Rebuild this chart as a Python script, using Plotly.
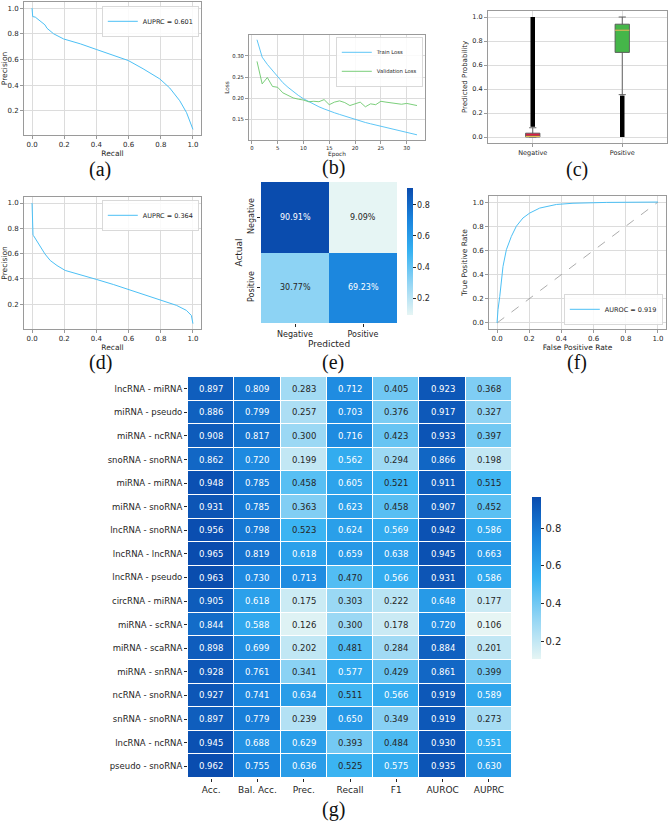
import plotly.graph_objects as go

W, H = 669, 822

# ---------------- data ----------------
# (a) precision-recall curve, AUPRC 0.601
pr_a_recall = [0.0, 0.0, 0.004, 0.02, 0.04, 0.065, 0.08, 0.093, 0.134, 0.196, 0.30, 0.40, 0.505,
               0.598, 0.69, 0.794, 0.856, 0.918, 0.96, 0.99, 1.0]
pr_a_precision = [1.0, 0.97, 0.934, 0.93, 0.91, 0.89, 0.87, 0.843, 0.80, 0.760, 0.722, 0.678, 0.632,
                  0.592, 0.528, 0.449, 0.378, 0.279, 0.187, 0.095, 0.056]
auprc_a = 0.601

# (b) training curves
epochs = list(range(1, 33))
train_loss = [0.338, 0.297, 0.280, 0.265, 0.250, 0.237, 0.226, 0.216, 0.207, 0.199, 0.192, 0.186,
              0.180, 0.175, 0.170, 0.166, 0.162, 0.158, 0.154, 0.150, 0.147, 0.143, 0.140, 0.137,
              0.134, 0.131, 0.128, 0.125, 0.122, 0.120, 0.117, 0.114]
val_loss = [0.287, 0.234, 0.249, 0.228, 0.226, 0.213, 0.207, 0.201, 0.198, 0.196, 0.192, 0.193,
            0.192, 0.197, 0.185, 0.191, 0.194, 0.190, 0.183, 0.187, 0.191, 0.180, 0.187, 0.185,
            0.193, 0.191, 0.189, 0.188, 0.186, 0.188, 0.186, 0.183]

# (c) predicted probability box plot
box_cats = ["Negative", "Positive"]
box_q1 = [0.0, 0.705]
box_median = [0.005, 0.89]
box_q3 = [0.032, 0.94]
box_lowerfence = [0.0, 0.353]
box_upperfence = [0.077, 1.0]
outlier_low = [0.085, 0.0]
outlier_high = [1.0, 0.345]

# (d) precision-recall curve, AUPRC 0.364
pr_d_recall = [0.0, 0.003, 0.006, 0.01, 0.03, 0.05, 0.08, 0.113, 0.155, 0.206, 0.30, 0.40, 0.505,
               0.608, 0.71, 0.814, 0.897, 0.959, 0.99, 1.0]
pr_d_precision = [1.0, 0.80, 0.745, 0.74, 0.70, 0.66, 0.597, 0.545, 0.505, 0.466, 0.434, 0.395,
                  0.355, 0.313, 0.268, 0.229, 0.19, 0.15, 0.11, 0.045]
auprc_d = 0.364

# (e) confusion matrix (percent)
cm_labels = ["Negative", "Positive"]
cm_pct = [[90.91, 9.09],
          [30.77, 69.23]]

# (f) ROC curve, AUROC 0.919
roc_fpr = [0.0, 0.006, 0.017, 0.027, 0.037, 0.058, 0.089, 0.12, 0.161, 0.203, 0.265, 0.369,
           0.472, 0.68, 1.0]
roc_tpr = [0.0, 0.11, 0.22, 0.344, 0.468, 0.606, 0.716, 0.80, 0.868, 0.909, 0.95, 0.98, 0.99,
           0.997, 1.0]
auroc_f = 0.919

# (g) metrics heatmap
metric_cols = ["Acc.", "Bal. Acc.", "Prec.", "Recall", "F1", "AUROC", "AUPRC"]
pair_rows = ["lncRNA - miRNA", "miRNA - pseudo", "miRNA - ncRNA", "snoRNA - snoRNA",
             "miRNA - miRNA", "miRNA - snoRNA", "lncRNA - snoRNA", "lncRNA - lncRNA",
             "lncRNA - pseudo", "circRNA - miRNA", "miRNA - scRNA", "miRNA - scaRNA",
             "miRNA - snRNA", "ncRNA - snoRNA", "snRNA - snoRNA", "lncRNA - ncRNA",
             "pseudo - snoRNA"]
metric_vals = [
    [0.897, 0.809, 0.283, 0.712, 0.405, 0.923, 0.368],
    [0.886, 0.799, 0.257, 0.703, 0.376, 0.917, 0.327],
    [0.908, 0.817, 0.300, 0.716, 0.423, 0.933, 0.397],
    [0.862, 0.720, 0.199, 0.562, 0.294, 0.866, 0.198],
    [0.948, 0.785, 0.458, 0.605, 0.521, 0.911, 0.515],
    [0.931, 0.785, 0.363, 0.623, 0.458, 0.907, 0.452],
    [0.956, 0.798, 0.523, 0.624, 0.569, 0.942, 0.586],
    [0.965, 0.819, 0.618, 0.659, 0.638, 0.945, 0.663],
    [0.963, 0.730, 0.713, 0.470, 0.566, 0.931, 0.586],
    [0.905, 0.618, 0.175, 0.303, 0.222, 0.648, 0.177],
    [0.844, 0.588, 0.126, 0.300, 0.178, 0.720, 0.106],
    [0.898, 0.699, 0.202, 0.481, 0.284, 0.884, 0.201],
    [0.928, 0.761, 0.341, 0.577, 0.429, 0.861, 0.399],
    [0.927, 0.741, 0.634, 0.511, 0.566, 0.919, 0.589],
    [0.897, 0.779, 0.239, 0.650, 0.349, 0.919, 0.273],
    [0.945, 0.688, 0.629, 0.393, 0.484, 0.930, 0.551],
    [0.962, 0.755, 0.636, 0.525, 0.575, 0.935, 0.630],
]

# ---------------- style ----------------
FONT = "DejaVu Sans"
TXT = "#262626"
BLUE = "#4cc0f5"
GREEN = "#6cc86c"
GRID = "#dcdcdc"
FRAME = "#9a9a9a"
CS = [[0.0, "#e6f5f4"], [0.25, "#93d5f4"], [0.5, "#36b2f2"], [0.75, "#1a84dd"], [1.0, "#0a4cae"]]


def X(px):
    return px / W


def Y(py):
    return 1 - py / H


def ydom(top, bottom):
    return [Y(bottom), Y(top)]


def xdom(left, right):
    return [X(left), X(right)]


def plot_axis(dom, rng, tickvals, fmt, fs, title, standoff, anchor, grid=True):
    d = dict(domain=dom, range=rng, showgrid=grid, gridcolor=GRID, gridwidth=0.8,
             showline=True, mirror=True, linecolor=FRAME, linewidth=1, ticks="outside",
             ticklen=3, tickwidth=0.8, tickcolor=FRAME, zeroline=False, anchor=anchor,
             tickfont=dict(size=fs, color=TXT, family=FONT),
             title=dict(text=title, font=dict(size=fs + 0.5, color=TXT, family=FONT),
                        standoff=standoff))
    if tickvals is not None:
        d["tickvals"] = tickvals
    if fmt:
        d["tickformat"] = fmt
    return d


fig = go.Figure()

# (a)
fig.add_trace(go.Scatter(x=pr_a_recall, y=pr_a_precision, mode="lines",
                         line=dict(color=BLUE, width=1), name=f"AUPRC = {auprc_a:.3f}",
                         xaxis="x", yaxis="y", legend="legend"))
# (b)
fig.add_trace(go.Scatter(x=epochs, y=train_loss, mode="lines", line=dict(color=BLUE, width=0.9),
                         name="Train Loss", xaxis="x2", yaxis="y2", legend="legend2"))
fig.add_trace(go.Scatter(x=epochs, y=val_loss, mode="lines", line=dict(color=GREEN, width=0.9),
                         name="Validation Loss", xaxis="x2", yaxis="y2", legend="legend2"))
# (c)
box_colors = ["#dc1f45", "#45b649"]
box_w = 0.16
for i, cat in enumerate(box_cats):
    fig.add_trace(go.Scatter(x=[cat, cat], y=[outlier_low[i], outlier_high[i]], mode="lines",
                             line=dict(color="black", width=4.5), showlegend=False,
                             xaxis="x3", yaxis="y3", hoverinfo="skip"))
    fig.add_trace(go.Box(x=[cat], q1=[box_q1[i]], median=[box_median[i]], q3=[box_q3[i]],
                         lowerfence=[box_lowerfence[i]], upperfence=[box_upperfence[i]],
                         fillcolor=box_colors[i], line=dict(color="#555555", width=0.9),
                         width=box_w, whiskerwidth=0.5, boxpoints=False, showlegend=False,
                         xaxis="x3", yaxis="y3"))
    fig.add_trace(go.Scatter(x=[i - box_w / 2, i + box_w / 2], y=[box_median[i], box_median[i]],
                             mode="lines", line=dict(color="#f1d25a", width=1),
                             showlegend=False, xaxis="x33", yaxis="y3", hoverinfo="skip"))
# (d)
fig.add_trace(go.Scatter(x=pr_d_recall, y=pr_d_precision, mode="lines",
                         line=dict(color=BLUE, width=1), name=f"AUPRC = {auprc_d:.3f}",
                         xaxis="x4", yaxis="y4", legend="legend3"))
# (e)
cm_z = [[v / 100 for v in row] for row in cm_pct]
cm_min = min(min(r) for r in cm_z)
cm_max = max(max(r) for r in cm_z)
fig.add_trace(go.Heatmap(z=cm_z, x=cm_labels, y=cm_labels, colorscale=CS, zmin=cm_min,
                         zmax=cm_max, xaxis="x5", yaxis="y5", showscale=True,
                         colorbar=dict(x=X(407), xanchor="left", y=Y((188 + 315) / 2),
                                       yanchor="middle", lenmode="pixels", len=127,
                                       thicknessmode="pixels", thickness=6, outlinewidth=0,
                                       tickvals=[0.2, 0.4, 0.6, 0.8], tickformat=".1f",
                                       ticks="outside", ticklen=3, tickcolor=TXT, xpad=0,
                                       ypad=0, tickfont=dict(size=8, color=TXT, family=FONT))))
# (f)
fig.add_trace(go.Scatter(x=[0, 1], y=[0, 1], mode="lines",
                         line=dict(color="#888888", width=0.7, dash="dash"), showlegend=False,
                         xaxis="x6", yaxis="y6"))
fig.add_trace(go.Scatter(x=roc_fpr, y=roc_tpr, mode="lines", line=dict(color=BLUE, width=1),
                         name=f"AUROC = {auroc_f:.3f}", xaxis="x6", yaxis="y6",
                         legend="legend4"))
# (g)
g_min = min(min(r) for r in metric_vals)
g_max = max(max(r) for r in metric_vals)
fig.add_trace(go.Heatmap(z=metric_vals, x=metric_cols, y=pair_rows, colorscale=CS, zmin=g_min,
                         zmax=g_max, xgap=1, ygap=1, xaxis="x7", yaxis="y7",
                         colorbar=dict(x=X(532), xanchor="left", y=Y((497 + 659) / 2),
                                       yanchor="middle", lenmode="pixels", len=162,
                                       thicknessmode="pixels", thickness=9, outlinewidth=0,
                                       tickvals=[0.2, 0.4, 0.6, 0.8], tickformat=".1f",
                                       ticks="outside", ticklen=3, tickcolor=TXT, xpad=0,
                                       ypad=0, tickfont=dict(size=10, color=TXT, family=FONT))))

annotations = []


def cell_color(v, lo, hi):
    return "white" if (v - lo) / (hi - lo) > 0.488 else TXT


for r, row in enumerate(cm_pct):
    for c, v in enumerate(row):
        annotations.append(dict(x=cm_labels[c], y=cm_labels[r], xref="x5", yref="y5",
                                text=f"{v:.2f}%", showarrow=False,
                                font=dict(size=8, family=FONT,
                                          color=cell_color(v / 100, cm_min, cm_max))))
for r, row in enumerate(metric_vals):
    for c, v in enumerate(row):
        annotations.append(dict(x=metric_cols[c], y=pair_rows[r], xref="x7", yref="y7",
                                text=f"{v:.3f}", showarrow=False,
                                font=dict(size=8.5, family=FONT,
                                          color=cell_color(v, g_min, g_max))))

captions = [("(a)", 100, 170), ("(b)", 333, 168), ("(c)", 577, 169), ("(d)", 100, 362),
            ("(e)", 333, 362), ("(f)", 577, 362), ("(g)", 333, 809)]
for t, cx, cy in captions:
    annotations.append(dict(x=X(cx), y=Y(cy), xref="paper", yref="paper", text=t,
                            showarrow=False, xanchor="center", yanchor="middle",
                            font=dict(size=20, family="Liberation Serif", color="#111")))

leg_common = dict(bgcolor="rgba(255,255,255,0.85)", bordercolor="#d0d0d0", borderwidth=0.8,
                  itemwidth=30, tracegroupgap=0)

fig.update_layout(
    width=W, height=H, margin=dict(l=0, r=0, t=0, b=0),
    paper_bgcolor="white", plot_bgcolor="white",
    font=dict(family=FONT, color=TXT),
    annotations=annotations,
    # (a)
    xaxis=plot_axis(xdom(24, 201), [-0.05, 1.05], [0, 0.2, 0.4, 0.6, 0.8, 1.0], ".1f", 7,
                    "Recall", 1, "y"),
    yaxis=plot_axis(ydom(2, 135), [0.0125, 1.0475], [0.2, 0.4, 0.6, 0.8, 1.0], ".1f", 7,
                    "Precision", 3, "x"),
    # (b)
    xaxis2=plot_axis(xdom(249, 425), [-0.55, 33.55], [0, 5, 10, 15, 20, 25, 30], None, 5.3,
                     "Epoch", 1, "y2"),
    yaxis2=plot_axis(ydom(35, 140), [0.1018, 0.3492], [0.15, 0.20, 0.25, 0.30, 0.35], ".2f",
                     5.3, "Loss", 2, "x2"),
    # (c)
    xaxis3=plot_axis(xdom(488, 667), [-0.5, 1.5], None, None, 6.5, "", 0, "y3"),
    xaxis33=dict(domain=xdom(488, 667), range=[-0.5, 1.5], overlaying="x3", visible=False,
                 anchor="y3"),
    yaxis3=plot_axis(ydom(11, 143), [-0.05, 1.05], [0, 0.2, 0.4, 0.6, 0.8, 1.0], ".1f", 6.5,
                     "Predicted Probability", 3, "x3"),
    # (d)
    xaxis4=plot_axis(xdom(24, 201), [-0.05, 1.05], [0, 0.2, 0.4, 0.6, 0.8, 1.0], ".1f", 7,
                     "Recall", 1, "y4"),
    yaxis4=plot_axis(ydom(197, 329), [0.0025, 1.0475], [0.2, 0.4, 0.6, 0.8, 1.0], ".1f", 7,
                     "Precision", 3, "x4"),
    # (e)
    xaxis5=dict(domain=xdom(261, 397), anchor="y5", showgrid=False, showline=False,
                zeroline=False, ticks="outside", ticklen=3, tickcolor=TXT,
                tickfont=dict(size=8, color=TXT, family=FONT),
                title=dict(text="Predicted", font=dict(size=9, color=TXT, family=FONT),
                           standoff=0)),
    yaxis5=dict(domain=ydom(182, 323), anchor="x5", autorange="reversed", showgrid=False,
                showline=False, zeroline=False, ticks="outside", ticklen=3, tickcolor=TXT,
                tickangle=-90, tickfont=dict(size=8, color=TXT, family=FONT),
                title=dict(text="Actual", font=dict(size=9, color=TXT, family=FONT),
                           standoff=2)),
    # (f)
    xaxis6=plot_axis(xdom(489, 666), [-0.05, 1.05], [0, 0.2, 0.4, 0.6, 0.8, 1.0], ".1f", 7,
                     "False Positive Rate", 1, "y6"),
    yaxis6=plot_axis(ydom(196, 329), [-0.05, 1.05], [0, 0.2, 0.4, 0.6, 0.8, 1.0], ".1f", 7,
                     "True Positive Rate", 3, "x6"),
    # (g)
    xaxis7=dict(domain=xdom(188, 512), anchor="y7", showgrid=False, showline=False,
                zeroline=False, ticks="outside", ticklen=3, tickcolor=TXT,
                tickfont=dict(size=9, color=TXT, family=FONT)),
    yaxis7=dict(domain=ydom(377, 778), anchor="x7", autorange="reversed", showgrid=False,
                showline=False, zeroline=False, ticks="outside", ticklen=3, tickcolor=TXT,
                tickfont=dict(size=8.5, color=TXT, family=FONT)),
    legend=dict(x=X(199), y=Y(6), xanchor="right", yanchor="top",
                font=dict(size=6.5, color=TXT, family=FONT), **leg_common),
    legend2=dict(x=X(423), y=Y(37), xanchor="right", yanchor="top",
                 font=dict(size=5.3, color=TXT, family=FONT), **leg_common),
    legend3=dict(x=X(199), y=Y(200), xanchor="right", yanchor="top",
                 font=dict(size=6.5, color=TXT, family=FONT), **leg_common),
    legend4=dict(x=X(663), y=Y(325), xanchor="right", yanchor="bottom",
                 font=dict(size=6.5, color=TXT, family=FONT), **leg_common),
)

fig.write_html("out.html")
